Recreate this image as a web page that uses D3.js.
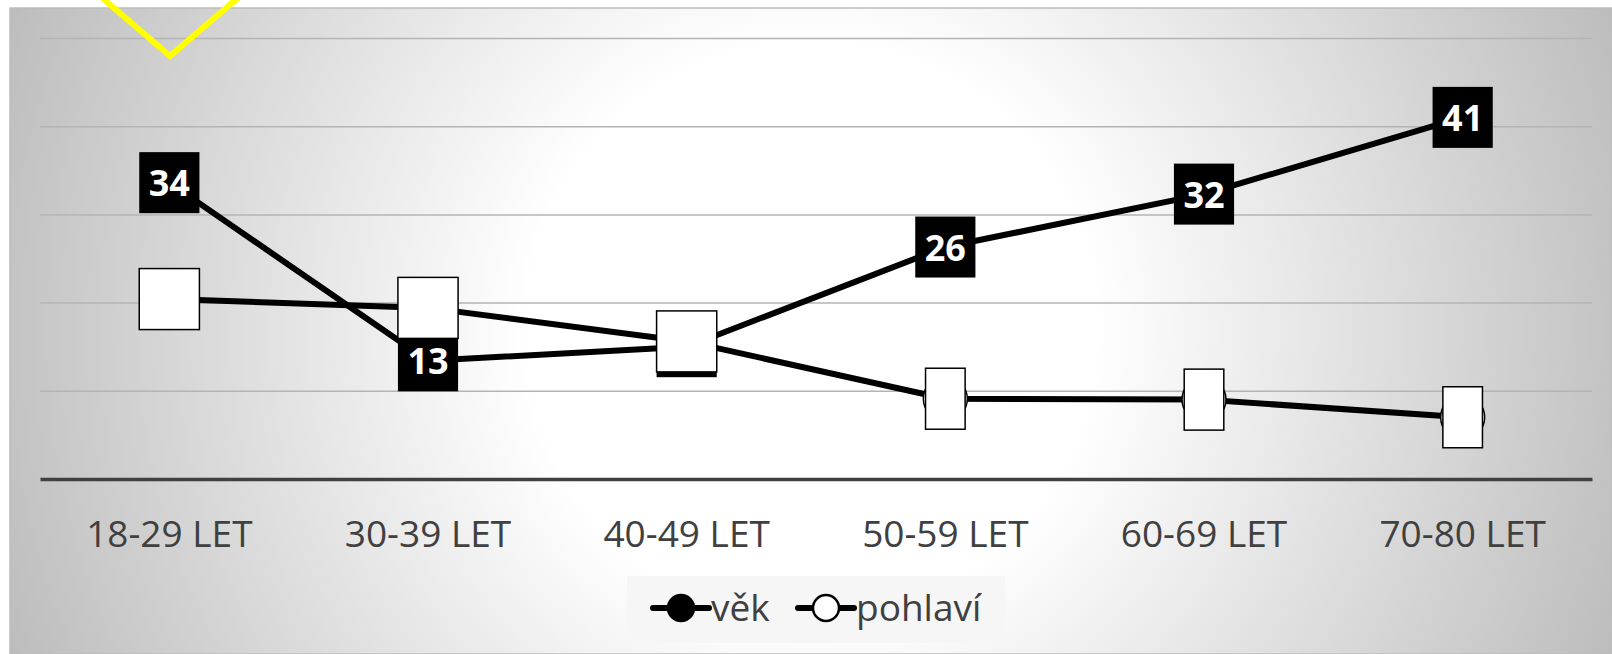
<!DOCTYPE html>
<html>
<head>
<meta charset="utf-8">
<script src="https://cdn.jsdelivr.net/npm/d3@7"></script>
<style>
  html, body { margin: 0; padding: 0; background: #ffffff; }
  svg { display: block; }
</style>
</head>
<body>
<svg id="chart" width="1612" height="654"></svg>
<script>
// ---- data ----
const categories = ["18-29 LET", "30-39 LET", "40-49 LET", "50-59 LET", "60-69 LET", "70-80 LET"];
const vekValues = [33.6, 13.4, 15.0, 26.3, 32.3, 41.0];
const pohlaviValues = [20.4, 19.4, 15.6, 9.1, 9.0, 7.0];
const seriesNames = ["věk", "pohlaví"];
const yTicks = [0, 10, 20, 30, 40, 50];

// ---- layout ----
const W = 1612, H = 654;
const plot = { left: 40, right: 1592, top: 38, bottom: 479 };
const svg = d3.select("#chart");
const fontFamily = "'Open Sans', 'Noto Sans', sans-serif";

// background gradient
const defs = svg.append("defs");
const grad = defs.append("radialGradient")
  .attr("id", "bg").attr("gradientUnits", "userSpaceOnUse")
  .attr("cx", 811).attr("cy", 330).attr("r", 860);
grad.append("stop").attr("offset", "0%").attr("stop-color", "#ffffff");
grad.append("stop").attr("offset", "33%").attr("stop-color", "#ffffff");
grad.append("stop").attr("offset", "100%").attr("stop-color", "#bdbdbd");

svg.append("rect").attr("x", 10).attr("y", 8).attr("width", W - 10).attr("height", H - 8)
  .attr("fill", "url(#bg)").attr("stroke", "#bcbcbc").attr("stroke-width", 1.5);

// ---- scales ----
const x = d3.scaleBand().domain(categories).range([plot.left, plot.right]).padding(0);
const cx = c => x(c) + x.bandwidth() / 2;
const y = d3.scaleLinear().domain([0, 50]).range([plot.bottom, plot.top]);

// gridlines
const grid = svg.append("g").attr("transform", `translate(${plot.left},0)`)
  .call(d3.axisLeft(y).tickValues(yTicks.filter(v => v > 0)).tickSize(-(plot.right - plot.left)).tickFormat(""));
grid.select(".domain").remove();
grid.selectAll(".tick line").attr("stroke", "#b4b4b4").attr("stroke-width", 1.5);

// x axis
const xAxis = svg.append("g").attr("transform", `translate(0,${y(0)})`)
  .call(d3.axisBottom(x).tickSize(0));
xAxis.select(".domain").attr("stroke", "#404040").attr("stroke-width", 3.5);
xAxis.selectAll(".tick text")
  .attr("dy", null).attr("y", 68)
  .attr("fill", "#404040")
  .style("font-family", fontFamily).style("font-size", "37px");

// decorative yellow mark
svg.append("path")
  .attr("d", "M100,-4 L170,56 L240,-4")
  .attr("fill", "none").attr("stroke", "#ffff00").attr("stroke-width", 6);

// ---- lines ----
const line = d3.line().x((d, i) => cx(categories[i])).y(d => y(d));
const series = [
  { name: seriesNames[0], values: vekValues, fill: "#000000", labelFill: "#000000", labelText: "#ffffff", labelStroke: "none" },
  { name: seriesNames[1], values: pohlaviValues, fill: "#ffffff", labelFill: "#ffffff", labelText: "#ffffff", labelStroke: "#000000" }
];

series.forEach(s => {
  svg.append("path").datum(s.values)
    .attr("d", line).attr("fill", "none")
    .attr("stroke", "#000000").attr("stroke-width", 6)
    .attr("stroke-linejoin", "round");
});

// markers
series.forEach(s => {
  svg.append("g").selectAll("circle").data(s.values).join("circle")
    .attr("cx", (d, i) => cx(categories[i])).attr("cy", d => y(d))
    .attr("r", 22).attr("fill", s.fill)
    .attr("stroke", "#000000").attr("stroke-width", 1.5);
});

// data labels
const fmt = d3.format(".0f");
series.forEach(s => {
  const g = svg.append("g");
  s.values.forEach((v, i) => {
    const lg = g.append("g").attr("transform", `translate(${cx(categories[i])},${y(v)})`);
    const rect = lg.append("rect");
    const t = lg.append("text")
      .attr("text-anchor", "middle").attr("y", 13.5)
      .attr("fill", s.labelText)
      .style("font-family", fontFamily).style("font-weight", "700").style("font-size", "36px")
      .text(fmt(v));
    const tw = t.node().getComputedTextLength();
    const bw = tw + 19, bh = 61;
    rect.attr("x", -bw / 2).attr("y", -bh / 2).attr("width", bw).attr("height", bh)
      .attr("fill", s.labelFill)
      .attr("stroke", s.labelStroke).attr("stroke-width", 1.5);
  });
});

// ---- legend ----
const legend = svg.append("g");
legend.append("rect").attr("x", 627).attr("y", 576).attr("width", 378).attr("height", 67)
  .attr("fill", "#f6f6f6");
const legendItems = [
  { name: seriesNames[0], x0: 653, fill: "#000000" },
  { name: seriesNames[1], x0: 798, fill: "#ffffff" }
];
legendItems.forEach(it => {
  const ly = 608;
  legend.append("line").attr("x1", it.x0).attr("x2", it.x0 + 56).attr("y1", ly).attr("y2", ly)
    .attr("stroke", "#000000").attr("stroke-width", 6).attr("stroke-linecap", "round");
  legend.append("circle").attr("cx", it.x0 + 28).attr("cy", ly).attr("r", 13)
    .attr("fill", it.fill).attr("stroke", "#000000").attr("stroke-width", 2.5);
  legend.append("text").attr("x", it.x0 + 58).attr("y", 621)
    .attr("fill", "#404040")
    .style("font-family", fontFamily).style("font-size", "37px")
    .text(it.name);
});
</script>
</body>
</html>
